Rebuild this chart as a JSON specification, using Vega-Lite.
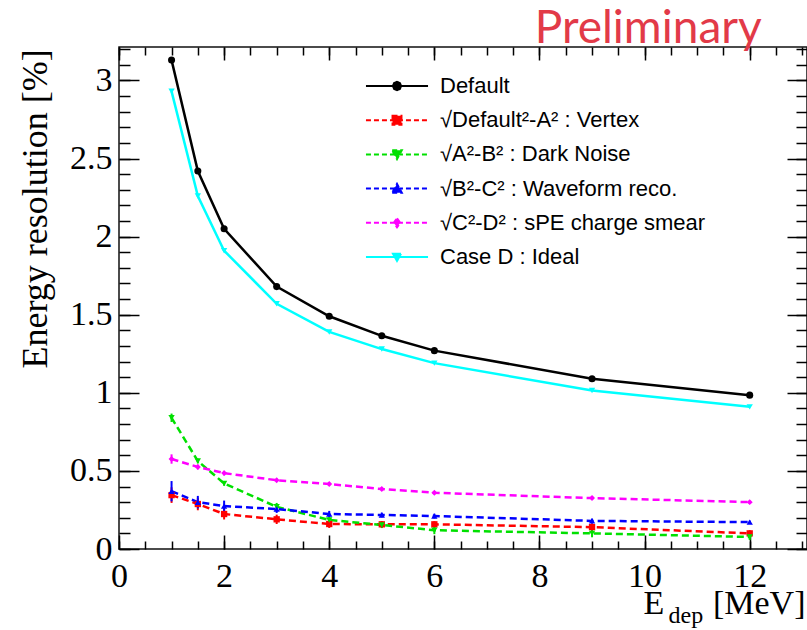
{
  "$schema": "https://vega.github.io/schema/vega-lite/v6.json",
  "width": 688,
  "height": 502,
  "autosize": {"type": "none"},
  "padding": {"left": 119, "top": 47, "right": 0, "bottom": 81},
  "background": "white",
  "title": {
    "text": "Preliminary",
    "anchor": "end",
    "font": "Lato",
    "fontSize": 46,
    "fontWeight": "normal",
    "color": "#e23a48",
    "baseline": "alphabetic",
    "offset": 4,
    "dx": -46,
    "dy": 47
  },
  "data": {
    "values": [
      {"s": "Default", "E": 1, "r": 3.13, "e": 0},
      {"s": "Default", "E": 1.5, "r": 2.42, "e": 0},
      {"s": "Default", "E": 2, "r": 2.05, "e": 0},
      {"s": "Default", "E": 3, "r": 1.68, "e": 0},
      {"s": "Default", "E": 4, "r": 1.49, "e": 0},
      {"s": "Default", "E": 5, "r": 1.365, "e": 0},
      {"s": "Default", "E": 6, "r": 1.27, "e": 0},
      {"s": "Default", "E": 9, "r": 1.09, "e": 0},
      {"s": "Default", "E": 12, "r": 0.985, "e": 0},
      {"s": "√Default²-A² : Vertex", "E": 1, "r": 0.345, "e": 0.05},
      {"s": "√Default²-A² : Vertex", "E": 1.5, "r": 0.288, "e": 0.04},
      {"s": "√Default²-A² : Vertex", "E": 2, "r": 0.224, "e": 0.035},
      {"s": "√Default²-A² : Vertex", "E": 3, "r": 0.19, "e": 0.03},
      {"s": "√Default²-A² : Vertex", "E": 4, "r": 0.16, "e": 0.025},
      {"s": "√Default²-A² : Vertex", "E": 5, "r": 0.158, "e": 0.02},
      {"s": "√Default²-A² : Vertex", "E": 6, "r": 0.158, "e": 0.02},
      {"s": "√Default²-A² : Vertex", "E": 9, "r": 0.14, "e": 0.025},
      {"s": "√Default²-A² : Vertex", "E": 12, "r": 0.1, "e": 0.02},
      {"s": "√A²-B² : Dark Noise", "E": 1, "r": 0.84, "e": 0.027},
      {"s": "√A²-B² : Dark Noise", "E": 1.5, "r": 0.563, "e": 0.015},
      {"s": "√A²-B² : Dark Noise", "E": 2, "r": 0.42, "e": 0.015},
      {"s": "√A²-B² : Dark Noise", "E": 3, "r": 0.27, "e": 0.025},
      {"s": "√A²-B² : Dark Noise", "E": 4, "r": 0.186, "e": 0.02},
      {"s": "√A²-B² : Dark Noise", "E": 5, "r": 0.154, "e": 0.02},
      {"s": "√A²-B² : Dark Noise", "E": 6, "r": 0.12, "e": 0.025},
      {"s": "√A²-B² : Dark Noise", "E": 9, "r": 0.1, "e": 0.025},
      {"s": "√A²-B² : Dark Noise", "E": 12, "r": 0.077, "e": 0.02},
      {"s": "√B²-C² : Waveform reco.", "E": 1, "r": 0.37, "e": 0.065},
      {"s": "√B²-C² : Waveform reco.", "E": 1.5, "r": 0.3, "e": 0.04},
      {"s": "√B²-C² : Waveform reco.", "E": 2, "r": 0.275, "e": 0.035},
      {"s": "√B²-C² : Waveform reco.", "E": 3, "r": 0.256, "e": 0.025},
      {"s": "√B²-C² : Waveform reco.", "E": 4, "r": 0.224, "e": 0.02},
      {"s": "√B²-C² : Waveform reco.", "E": 5, "r": 0.218, "e": 0.015},
      {"s": "√B²-C² : Waveform reco.", "E": 6, "r": 0.211, "e": 0.015},
      {"s": "√B²-C² : Waveform reco.", "E": 9, "r": 0.18, "e": 0.015},
      {"s": "√B²-C² : Waveform reco.", "E": 12, "r": 0.172, "e": 0.01},
      {"s": "√C²-D² : sPE charge smear", "E": 1, "r": 0.576, "e": 0.03},
      {"s": "√C²-D² : sPE charge smear", "E": 1.5, "r": 0.525, "e": 0.015},
      {"s": "√C²-D² : sPE charge smear", "E": 2, "r": 0.486, "e": 0.015},
      {"s": "√C²-D² : sPE charge smear", "E": 3, "r": 0.44, "e": 0.01},
      {"s": "√C²-D² : sPE charge smear", "E": 4, "r": 0.416, "e": 0.01},
      {"s": "√C²-D² : sPE charge smear", "E": 5, "r": 0.384, "e": 0.01},
      {"s": "√C²-D² : sPE charge smear", "E": 6, "r": 0.36, "e": 0.01},
      {"s": "√C²-D² : sPE charge smear", "E": 9, "r": 0.326, "e": 0.01},
      {"s": "√C²-D² : sPE charge smear", "E": 12, "r": 0.3, "e": 0.01},
      {"s": "Case D : Ideal", "E": 1, "r": 2.93, "e": 0},
      {"s": "Case D : Ideal", "E": 1.5, "r": 2.26, "e": 0},
      {"s": "Case D : Ideal", "E": 2, "r": 1.91, "e": 0},
      {"s": "Case D : Ideal", "E": 3, "r": 1.57, "e": 0},
      {"s": "Case D : Ideal", "E": 4, "r": 1.39, "e": 0},
      {"s": "Case D : Ideal", "E": 5, "r": 1.28, "e": 0},
      {"s": "Case D : Ideal", "E": 6, "r": 1.19, "e": 0},
      {"s": "Case D : Ideal", "E": 9, "r": 1.015, "e": 0},
      {"s": "Case D : Ideal", "E": 12, "r": 0.91, "e": 0}
    ]
  },
  "layer": [
    {
      "transform": [{"filter": "datum.s != 'Default' && datum.s != 'Case D : Ideal'"}],
      "mark": {"type": "errorbar", "thickness": 2},
      "encoding": {
        "x": {"field": "E", "type": "quantitative", "scale": {"domain": [0, 13.09], "nice": false, "zero": false},
          "axis": {"orient": "top", "values": [0,0.5,1,1.5,2,2.5,3,3.5,4,4.5,5,5.5,6,6.5,7,7.5,8,8.5,9,9.5,10,10.5,11,11.5,12,12.5,13], "labels": false, "tickSize": -8, "title": null}},
        "y": {"field": "r", "type": "quantitative", "scale": {"domain": [0, 3.214], "nice": false, "zero": false},
          "axis": {"orient": "right", "values": [0,0.1,0.2,0.3,0.4,0.5,0.6,0.7,0.8,0.9,1,1.1,1.2,1.3,1.4,1.5,1.6,1.7,1.8,1.9,2,2.1,2.2,2.3,2.4,2.5,2.6,2.7,2.8,2.9,3,3.1,3.2], "labels": false, "tickSize": -11, "title": null}},
        "yError": {"field": "e"},
        "color": {"field": "s", "type": "nominal"}
      }
    },
    {
      "transform": [{"filter": "datum.s != 'Default' && datum.s != 'Case D : Ideal'"}],
      "mark": {"type": "line", "strokeWidth": 2.5, "strokeDash": [7, 4]},
      "encoding": {
        "x": {"field": "E", "type": "quantitative", "scale": {"domain": [0, 13.09], "nice": false, "zero": false},
          "axis": {"orient": "bottom", "values": [0,0.5,1,1.5,2,2.5,3,3.5,4,4.5,5,5.5,6,6.5,7,7.5,8,8.5,9,9.5,10,10.5,11,11.5,12,12.5,13], "labels": false, "tickSize": -8,
            "title": "E", "titleAlign": "left", "titleBaseline": "alphabetic", "titleX": 524, "titleY": 64, "titleFontSize": 34}},
        "y": {"field": "r", "type": "quantitative", "scale": {"domain": [0, 3.214], "nice": false, "zero": false},
          "axis": {"orient": "left", "values": [0,0.1,0.2,0.3,0.4,0.5,0.6,0.7,0.8,0.9,1,1.1,1.2,1.3,1.4,1.5,1.6,1.7,1.8,1.9,2,2.1,2.2,2.3,2.4,2.5,2.6,2.7,2.8,2.9,3,3.1,3.2], "labels": false, "tickSize": -11, "title": null}},
        "color": {"field": "s", "type": "nominal"}
      }
    },
    {
      "transform": [{"filter": "datum.s == 'Default' || datum.s == 'Case D : Ideal'"}],
      "mark": {"type": "line", "strokeWidth": 2.5},
      "encoding": {
        "x": {"field": "E", "type": "quantitative", "scale": {"domain": [0, 13.09], "nice": false, "zero": false},
          "axis": {"orient": "bottom", "values": [0,2,4,6,8,10,12], "tickSize": -14, "labelPadding": 24, "labelFlush": false, "labelOverlap": false,
            "title": "[MeV]", "titleAlign": "right", "titleBaseline": "alphabetic", "titleX": 686, "titleY": 64, "titleFontSize": 34}},
        "y": {"field": "r", "type": "quantitative", "scale": {"domain": [0, 3.214], "nice": false, "zero": false},
          "axis": {"orient": "left", "values": [0,0.5,1,1.5,2,2.5,3], "format": ".1~f", "tickSize": -20, "labelPadding": 27, "labelFlush": false, "labelOverlap": false,
            "title": "Energy resolution [%]", "titleAngle": -90, "titleAlign": "left", "titleBaseline": "alphabetic", "titleX": -73, "titleY": 321, "titleFontSize": 36}},
        "color": {
          "field": "s", "type": "nominal",
          "scale": {
            "domain": ["Default", "√Default²-A² : Vertex", "√A²-B² : Dark Noise", "√B²-C² : Waveform reco.", "√C²-D² : sPE charge smear", "Case D : Ideal"],
            "range": ["#000000", "#ff0000", "#00e000", "#0000ff", "#ff00ff", "#00ffff"]
          },
          "legend": {
            "orient": "none",
            "legendX": 261,
            "legendY": 22,
            "title": null,
            "padding": 0,
            "symbolSize": 1024,
            "symbolStrokeWidth": 2,
            "symbolOffset": 0,
            "rowPadding": 6.2,
            "labelOffset": 26,
            "labelFont": "Liberation Sans",
            "labelFontSize": 22,
            "labelColor": "black",
            "labelLimit": 500,
            "encode": {
              "symbols": {
                "update": {
                  "shape": {"signal": "['M-1.94,0H1.94M0.26,0L0.18,0.18L0,0.26L-0.18,0.18L-0.26,0L-0.18,-0.18L0,-0.26L0.18,-0.18Z','M-1.94,0H1.94M-0.28,-0.28H0.28V0.28H-0.28Z','M-1.94,0H1.94M-0.3,-0.26H0.3L0,0.3Z','M-1.94,0H1.94M-0.3,0.26H0.3L0,-0.3Z','M-1.94,0H1.94M0,-0.28L0.2,0L0,0.28L-0.2,0Z','M-1.94,0H1.94M-0.25,-0.2H0.25L0,0.25Z'][datum.index]"},
                  "strokeDash": {"signal": "(datum.index == 0 || datum.index == 5) ? [1, 0] : [5, 3]"},
                  "fill": {"signal": "scale('color', datum.value)"},
                  "stroke": {"signal": "scale('color', datum.value)"},
                  "opacity": {"value": 1}
                }
              }
            }
          }
        }
      }
    },
    {
      "transform": [{"filter": "datum.s == 'Default'"}],
      "mark": {"type": "point", "shape": "circle", "filled": true, "size": 50, "opacity": 1},
      "encoding": {
        "x": {"field": "E", "type": "quantitative", "scale": {"domain": [0, 13.09], "nice": false, "zero": false},
          "axis": {"orient": "top", "values": [0,2,4,6,8,10,12], "labels": false, "tickSize": -13,
            "title": "dep", "titleAlign": "left", "titleBaseline": "alphabetic", "titleX": 549, "titleY": 575, "titleFontSize": 24}},
        "y": {"field": "r", "type": "quantitative", "scale": {"domain": [0, 3.214], "nice": false, "zero": false},
          "axis": {"orient": "right", "values": [0,0.5,1,1.5,2,2.5,3], "labels": false, "tickSize": -20, "title": null}},
        "color": {"field": "s", "type": "nominal"}
      }
    },
    {
      "transform": [{"filter": "datum.s == '√Default²-A² : Vertex'"}],
      "mark": {"type": "point", "shape": "square", "filled": true, "size": 40, "opacity": 1},
      "encoding": {
        "x": {"field": "E", "type": "quantitative", "axis": null},
        "y": {"field": "r", "type": "quantitative", "axis": null},
        "color": {"field": "s", "type": "nominal"}
      }
    },
    {
      "transform": [{"filter": "datum.s == '√A²-B² : Dark Noise' || datum.s == 'Case D : Ideal'"}],
      "mark": {"type": "point", "shape": "triangle-down", "filled": true, "size": 40, "opacity": 1},
      "encoding": {
        "x": {"field": "E", "type": "quantitative", "axis": null},
        "y": {"field": "r", "type": "quantitative", "axis": null},
        "color": {"field": "s", "type": "nominal"}
      }
    },
    {
      "transform": [{"filter": "datum.s == '√B²-C² : Waveform reco.'"}],
      "mark": {"type": "point", "shape": "triangle-up", "filled": true, "size": 40, "opacity": 1},
      "encoding": {
        "x": {"field": "E", "type": "quantitative", "axis": null},
        "y": {"field": "r", "type": "quantitative", "axis": null},
        "color": {"field": "s", "type": "nominal"}
      }
    },
    {
      "transform": [{"filter": "datum.s == '√C²-D² : sPE charge smear'"}],
      "mark": {"type": "point", "shape": "diamond", "filled": true, "size": 35, "opacity": 1},
      "encoding": {
        "x": {"field": "E", "type": "quantitative", "axis": null},
        "y": {"field": "r", "type": "quantitative", "axis": null},
        "color": {"field": "s", "type": "nominal"}
      }
    }
  ],
  "resolve": {"axis": {"x": "independent", "y": "independent"}},
  "config": {
    "view": {"stroke": "#111111", "strokeWidth": 1.5},
    "axis": {
      "domain": false,
      "grid": false,
      "tickColor": "black",
      "tickWidth": 1.5,
      "labelColor": "black",
      "titleColor": "black",
      "labelFont": "Liberation Serif",
      "titleFont": "Liberation Serif",
      "titleFontWeight": "normal",
      "labelFontSize": 34
    }
  }
}
